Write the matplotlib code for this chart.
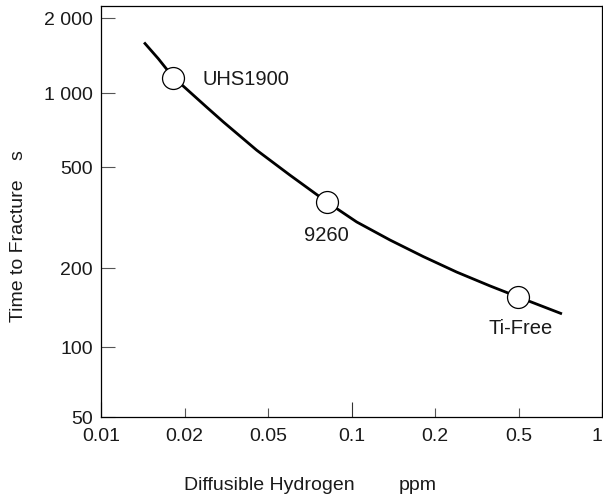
import numpy as np
import matplotlib
matplotlib.use('Agg')
import matplotlib.pyplot as plt

plt.rcParams['font.family'] = ['Liberation Sans', 'DejaVu Sans']

# curve: diffusible hydrogen (ppm) vs time to fracture (s)
hydrogen = [0.01441, 0.01609, 0.01825, 0.01981, 0.02552, 0.03062, 0.04418, 0.0600,
            0.0814, 0.1044, 0.1377, 0.1815, 0.2538, 0.3658, 0.4954, 0.7096]
fracture_time = [1583, 1376, 1154, 1067, 877, 764, 586, 465,
                 365, 304, 258, 222, 193.1, 171, 155.5, 134.4]

# the three steels marked with circles
steels = ['UHS1900', '9260', 'Ti-Free']
steel_h = [0.01825, 0.0814, 0.4954]
steel_t = [1154, 365, 155.5]

x_major = [0.01, 0.1, 1]
x_major_labels = ['0.01', '0.1', '1']
x_minor = [0.02, 0.05, 0.2, 0.5]
x_minor_labels = ['0.02', '0.05', '0.2', '0.5']
y_ticks = [50, 100, 200, 500, 1000, 2000]
y_tick_labels = ['50', '100', '200', '500', '1 000', '2 000']

# the original axes are "log-like": 1-2-5 steps equally spaced on x,
# nearly true log on y. piecewise log scales reproduce that.
x_anchor = np.log10([0.005, 0.01, 0.02, 0.05, 0.1, 0.2, 0.5, 1, 2])
x_anchor_pos = [-1, 0, 1, 2, 3, 4, 5, 6, 7]
y_anchor = np.log10([25, 50, 100, 200, 500, 1000, 2000, 5000])
y_anchor_pos = [-76, 0, 70, 149, 250, 324, 399, 498]


def x_fwd(v):
    return np.interp(np.log10(np.clip(v, 1e-9, None)), x_anchor, x_anchor_pos)


def x_inv(p):
    return 10 ** np.interp(p, x_anchor_pos, x_anchor)


def y_fwd(v):
    return np.interp(np.log10(np.clip(v, 1e-9, None)), y_anchor, y_anchor_pos)


def y_inv(p):
    return 10 ** np.interp(p, y_anchor_pos, y_anchor)


fig = plt.figure(figsize=(6.03, 4.95), dpi=100)
ax = fig.add_axes([101 / 603, 1 - 417 / 495, 501 / 603, 411 / 495])
ax.set_xscale('function', functions=(x_fwd, x_inv))
ax.set_yscale('function', functions=(y_fwd, y_inv))

ax.plot(hydrogen, fracture_time, color='black', lw=2.0, zorder=2,
        solid_joinstyle='round')
ax.plot(steel_h, steel_t, 'o', ms=15.8, mfc='white', mec='black', mew=0.9,
        zorder=3)

label_offsets = [(21, -1), (-0.5, -24), (2, -22.5)]
label_align = ['left', 'center', 'center']
for name, h, t, off, ha in zip(steels, steel_h, steel_t, label_offsets, label_align):
    ax.annotate(name, (h, t), xytext=off, textcoords='offset points',
                ha=ha, va='center', fontsize=14.5, color='#1a1a1a')

ax.set_xlim(0.01, 1)
ax.set_ylim(50, 2240)

ax.set_xticks(x_major, labels=x_major_labels)
ax.set_xticks(x_minor, labels=x_minor_labels, minor=True)
ax.set_yticks(y_ticks, labels=y_tick_labels)
ax.yaxis.set_minor_locator(matplotlib.ticker.NullLocator())

ax.tick_params(axis='x', which='major', direction='in', length=10.8, width=0.8,
               color='#333333', pad=8.2, labelsize=14, labelcolor='#1a1a1a')
ax.tick_params(axis='x', which='minor', direction='in', length=6.5, width=0.8,
               color='#555555', pad=8.2, labelsize=14, labelcolor='#1a1a1a')
ax.tick_params(axis='y', which='major', direction='in', length=10, width=0.8,
               color='#555555', pad=5.8, labelsize=14, labelcolor='#1a1a1a')
# keep the "1" at the right edge inside the picture
ax.get_xticklabels()[-1].set_horizontalalignment('right')

for sp in ax.spines.values():
    sp.set_linewidth(0.9)
    sp.set_color('black')

# axis titles (placed like the original, with the unit set apart)
fig.text(269.5 / 603, 1 - 490 / 495, 'Diffusible Hydrogen', ha='center',
         va='baseline', fontsize=14, color='#1a1a1a')
fig.text(418 / 603, 1 - 490 / 495, 'ppm', ha='center', va='baseline',
         fontsize=14, color='#1a1a1a')
fig.text(18.2 / 603, 1 - 251 / 495, 'Time to Fracture', rotation=90,
         ha='center', va='center', fontsize=14, color='#1a1a1a')
fig.text(18.2 / 603, 1 - 155 / 495, 's', rotation=90,
         ha='center', va='center', fontsize=14, color='#1a1a1a')

fig.savefig('out.png', dpi=100)
